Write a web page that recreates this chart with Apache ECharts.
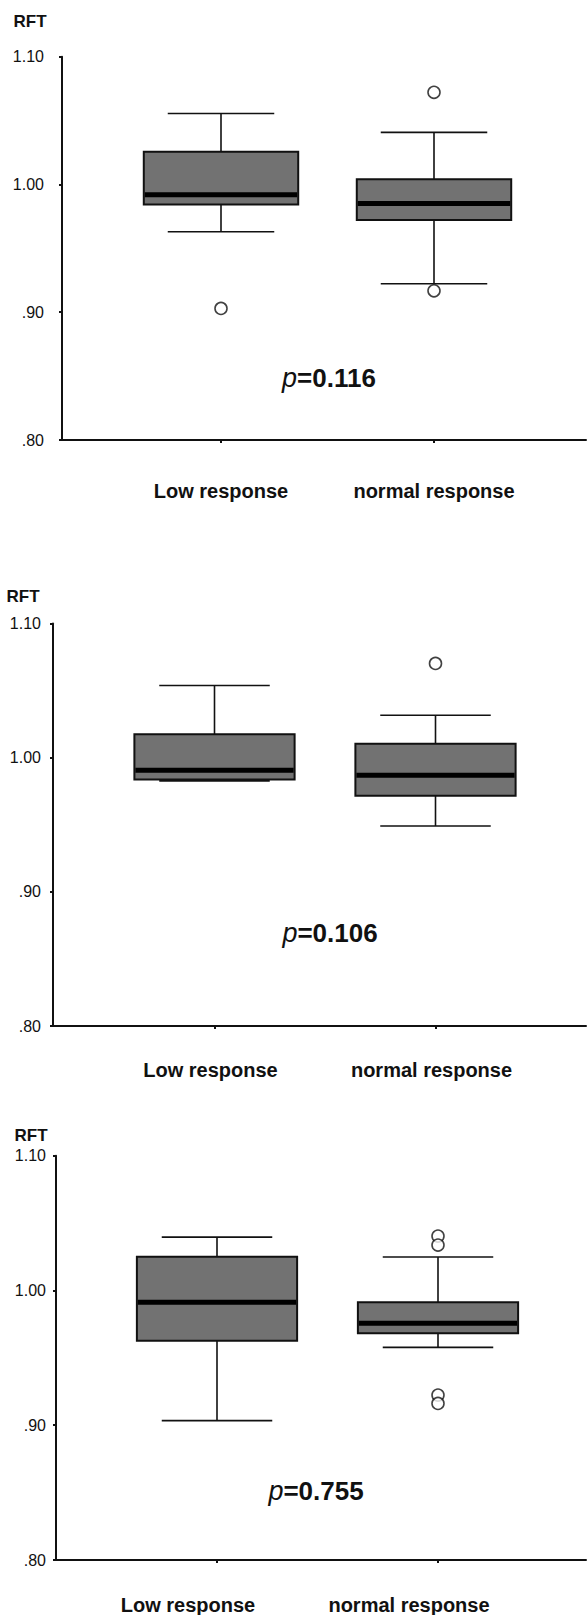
<!DOCTYPE html>
<html><head><meta charset="utf-8">
<script src="https://cdn.jsdelivr.net/npm/echarts@6/dist/echarts.min.js"></script>
<style>html,body{margin:0;padding:0;background:#fff}#c{width:588px;height:1615px}</style>
</head><body><div id="c"></div>
<script>
// ---------- data ----------
const categories = ['Low response', 'normal response'];
const yTickValues = [0.80, 0.90, 1.00, 1.10];
const yTickLabels = ['.80', '.90', '1.00', '1.10'];
const axisTitle = 'RFT';
const pValues = ['0.116', '0.106', '0.755'];

// each box: [lower whisker, Q1, median, Q3, upper whisker]
const boxes1 = [
  [0.963, 0.9844, 0.992, 1.0256, 1.0556],
  [0.9223, 0.9722, 0.9852, 1.0040, 1.0408]
];
const outliers1 = [[0, 0.903], [1, 1.0721], [1, 0.9168]];

const boxes2 = [
  [0.9827, 0.9837, 0.9906, 1.0175, 1.0538],
  [0.9491, 0.9717, 0.9869, 1.0103, 1.0316]
];
const outliers2 = [[1, 1.0702]];

const boxes3 = [
  [0.9034, 0.9627, 0.9912, 1.0251, 1.0396],
  [0.9578, 0.9682, 0.9756, 0.9912, 1.0248]
];
const outliers3 = [[1, 1.0404], [1, 1.0337], [1, 0.9224], [1, 0.9162]];

// ---------- layout / style ----------
const FONT = "'Liberation Sans', Arial, sans-serif";
const INK = '#111';
const panels = [
  {boxes: boxes1, outliers: outliers1, p: pValues[0],
   top: 56.7, bottom: 440, axisX: 62, boxLeft: 114.5, boxRight: 47.5,
   rft: [30, 21], pPos: [329, 378], yMargin: 18, xMargin: 41, xShift: 0},
  {boxes: boxes2, outliers: outliers2, p: pValues[1],
   top: 623.5, bottom: 1026, axisX: 53, boxLeft: 104, boxRight: 42,
   rft: [23, 596], pPos: [330, 933], yMargin: 12, xMargin: 34, xShift: 4},
  {boxes: boxes3, outliers: outliers3, p: pValues[2],
   top: 1155.7, bottom: 1560, axisX: 56, boxLeft: 106.5, boxRight: 39.5,
   rft: [31, 1135], pPos: [316, 1491], yMargin: 10, xMargin: 35, xShift: 29}
];

function yLabel(v) {
  const i = yTickValues.findIndex(t => Math.abs(t - v) < 1e-6);
  return i >= 0 ? yTickLabels[i] : '';
}

function renderBox(params, api) {
  const idx = api.value(0);
  const lo = api.coord([idx, api.value(1)]);
  const q1 = api.coord([idx, api.value(2)]);
  const md = api.coord([idx, api.value(3)]);
  const q3 = api.coord([idx, api.value(4)]);
  const hi = api.coord([idx, api.value(5)]);
  const band = api.size([1, 0])[0];
  const bw = band * 0.725, cw = band * 0.5;
  const x = md[0];
  const ls = {stroke: INK, lineWidth: 1.6};
  return {type: 'group', children: [
    {type: 'line', shape: {x1: x, y1: hi[1], x2: x, y2: q3[1]}, style: ls},
    {type: 'line', shape: {x1: x, y1: q1[1], x2: x, y2: lo[1]}, style: ls},
    {type: 'line', shape: {x1: x - cw / 2, y1: hi[1], x2: x + cw / 2, y2: hi[1]}, style: ls},
    {type: 'line', shape: {x1: x - cw / 2, y1: lo[1], x2: x + cw / 2, y2: lo[1]}, style: ls},
    {type: 'rect', shape: {x: x - bw / 2, y: q3[1], width: bw, height: q1[1] - q3[1]},
     style: {fill: '#727272', stroke: INK, lineWidth: 2}},
    {type: 'line', shape: {x1: x - bw / 2 + 1, y1: md[1], x2: x + bw / 2 - 1, y2: md[1]},
     style: {stroke: '#000', lineWidth: 5}}
  ]};
}

const grid = [], xAxis = [], yAxis = [], series = [], graphic = [];
panels.forEach((P, k) => {
  const h = P.bottom - P.top;
  const gFrame = 2 * k, gBox = 2 * k + 1;
  grid.push({left: P.axisX, right: 2, top: P.top, height: h, containLabel: false, outerBoundsMode: 'none'});
  grid.push({left: P.boxLeft, right: P.boxRight, top: P.top, height: h, containLabel: false, outerBoundsMode: 'none'});
  // frame axes
  xAxis.push({gridIndex: gFrame, type: 'value', min: 0, max: 1,
    axisLine: {show: true, onZero: false, lineStyle: {color: INK, width: 2}},
    axisTick: {show: false}, axisLabel: {show: false}, splitLine: {show: false}});
  yAxis.push({gridIndex: gFrame, type: 'value', min: 0.8, max: 1.1, interval: 0.1,
    axisLine: {show: true, lineStyle: {color: INK, width: 2}},
    axisTick: {show: true, length: 3, lineStyle: {color: INK, width: 2}},
    axisLabel: {formatter: yLabel, margin: P.yMargin, fontSize: 16, fontFamily: FONT, color: INK},
    splitLine: {show: false}});
  // box axes
  xAxis.push({gridIndex: gBox, type: 'category', data: categories,
    axisLine: {show: false},
    axisTick: {show: true, alignWithLabel: true, length: 3, lineStyle: {color: INK, width: 2}},
    axisLabel: {margin: P.xMargin, fontSize: 20, fontWeight: 'bold', fontFamily: FONT, color: INK,
      padding: [0, 2 * P.xShift, 0, 0]},
    splitLine: {show: false}});
  yAxis.push({gridIndex: gBox, type: 'value', min: 0.8, max: 1.1, interval: 0.1, show: false});
  series.push({type: 'custom', xAxisIndex: gBox, yAxisIndex: gBox,
    data: P.boxes.map((b, i) => [i].concat(b)),
    encode: {x: 0, y: [1, 2, 3, 4, 5]},
    renderItem: renderBox, silent: true, animation: false});
  series.push({type: 'scatter', xAxisIndex: gBox, yAxisIndex: gBox,
    data: P.outliers, symbol: 'circle', symbolSize: 12,
    itemStyle: {color: '#fff', borderColor: INK, borderWidth: 1.6},
    silent: true, animation: false, z: 5});
  graphic.push({type: 'text', x: P.rft[0], y: P.rft[1],
    style: {text: axisTitle, fontSize: 17, fontWeight: 'bold', fontFamily: FONT, fill: INK,
      align: 'center', verticalAlign: 'middle'}});
  graphic.push({type: 'text', x: P.pPos[0], y: P.pPos[1],
    style: {text: '{i|p}{b|=' + P.p + '}', align: 'center', verticalAlign: 'middle',
      rich: {
        i: {fontSize: 27, fontStyle: 'italic', fontFamily: FONT, fill: INK, color: INK},
        b: {fontSize: 26, fontWeight: 'bold', fontFamily: FONT, fill: INK, color: INK}
      }}});
});

const chart = echarts.init(document.getElementById('c'), null, {renderer: 'svg', width: 588, height: 1615});
chart.setOption({
  animation: false,
  backgroundColor: '#fff',
  grid, xAxis, yAxis, series, graphic
});
</script>
</body></html>
